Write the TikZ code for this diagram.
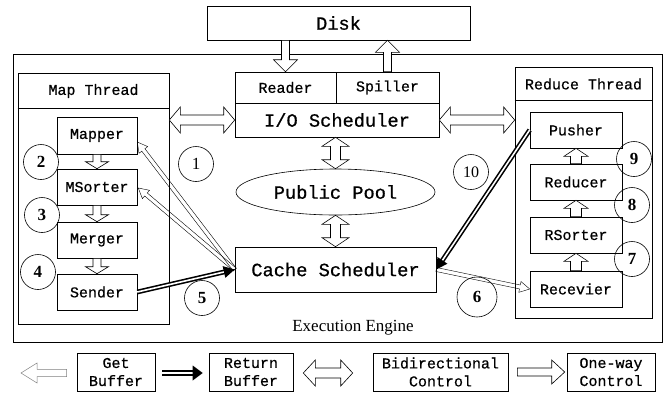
\documentclass[tikz,border=0pt]{standalone}
\usepackage{fontspec}
\setmainfont{Liberation Serif}
\setmonofont{Liberation Mono}[FakeBold=0.7]
\usetikzlibrary{calc,shapes.geometric}

\newcommand{\smallmono}{\ttfamily\fontsize{15}{18}\selectfont}
\newcommand{\bigmono}{\ttfamily\fontsize{18.7}{22}\selectfont}

% hollow block arrow: [opts]{from}{to}{shaft half}{head half}{head length}
\newcommand{\blockarrow}[6][]{%
  \coordinate (ba-s) at (#2);
  \coordinate (ba-e) at (#3);
  \coordinate (ba-c) at ($(ba-e)!#6!(ba-s)$);
  \draw[#1] ($(ba-s)!#4!90:(ba-e)$) -- ($(ba-c)!#4!90:(ba-e)$) -- ($(ba-c)!#5!90:(ba-e)$) -- (ba-e)
    -- ($(ba-c)!#5!-90:(ba-e)$) -- ($(ba-c)!#4!-90:(ba-e)$) -- ($(ba-s)!#4!-90:(ba-e)$) -- cycle;
}
% hollow block arrow with two heads
\newcommand{\dblarrow}[6][]{%
  \coordinate (ba-s) at (#2);
  \coordinate (ba-e) at (#3);
  \coordinate (ba-a) at ($(ba-s)!#6!(ba-e)$);
  \coordinate (ba-b) at ($(ba-e)!#6!(ba-s)$);
  \draw[#1] (ba-s) -- ($(ba-a)!#5!90:(ba-e)$) -- ($(ba-a)!#4!90:(ba-e)$) -- ($(ba-b)!#4!90:(ba-e)$)
    -- ($(ba-b)!#5!90:(ba-e)$) -- (ba-e) -- ($(ba-b)!#5!-90:(ba-e)$) -- ($(ba-b)!#4!-90:(ba-e)$)
    -- ($(ba-a)!#4!-90:(ba-e)$) -- ($(ba-a)!#5!-90:(ba-e)$) -- cycle;
}
% return buffer arrow: double shaft, black head
\newcommand{\retarrow}[5][]{%
  \coordinate (ba-s) at (#2);
  \coordinate (ba-e) at (#3);
  \coordinate (ba-c) at ($(ba-e)!#5!(ba-s)$);
  \draw[double, line width=1.6pt, double distance=1.6pt, #1] (ba-s) -- ($(ba-c)!1pt!(ba-e)$);
  \fill ($(ba-c)!#4!90:(ba-e)$) -- (ba-e) -- ($(ba-c)!#4!-90:(ba-e)$) -- cycle;
}

\begin{document}
\begin{tikzpicture}[x=1pt, y=-1pt, line width=0.6pt,
  unitbox/.style={draw, rectangle, inner sep=0pt, font=\smallmono},
  numcirc/.style={draw, circle, minimum size=35pt, inner sep=0pt, font=\fontsize{17}{18}\selectfont\bfseries},
  legbox/.style={draw, rectangle, inner sep=0pt, minimum height=38pt, align=center, font=\smallmono}]
\useasboundingbox (0,0) rectangle (670,392);

% disk and engine
\node[unitbox, minimum width=263pt, minimum height=34pt, font=\bigmono] (disk) at (338.5,23) {Disk};
\node[draw, minimum width=649pt, minimum height=288pt] (engine) at (337.5,198) {};
\node[font=\fontsize{17}{20}\selectfont] (englabel) at (353,328) {Execution Engine};

% schedulers and pool
\node[unitbox, minimum width=101pt, minimum height=31pt] (reader) at (285.5,87.5) {Reader};
\node[unitbox, minimum width=103pt, minimum height=31pt] (spiller) at (387.5,87.5) {Spiller};
\node[unitbox, minimum width=204pt, minimum height=34pt, font=\bigmono] (iosched) at (337,120) {I/O Scheduler};
\node[draw, ellipse, minimum width=199pt, minimum height=46pt, inner sep=0pt, font=\bigmono] (pool) at (335.5,192) {Public Pool};
\node[unitbox, minimum width=201pt, minimum height=45pt, font=\bigmono] (cache) at (335.5,269.5) {Cache Scheduler};

% map thread
\node[draw, minimum width=151pt, minimum height=251pt] (mapthread) at (93.5,198.5) {};
\draw ($(mapthread.north west)+(0,36)$) -- ($(mapthread.north east)+(0,36)$);
\node[font=\smallmono] (maptitle) at (93.5,91) {Map Thread};
\node[unitbox, minimum width=80pt, minimum height=37pt] (mapper) at (97,135.5) {Mapper};
\node[unitbox, minimum width=80pt, minimum height=36pt] (msorter) at (97,187) {MSorter};
\node[unitbox, minimum width=80pt, minimum height=36pt] (merger) at (97,240) {Merger};
\node[unitbox, minimum width=80pt, minimum height=36pt] (sender) at (97,292) {Sender};

% reduce thread
\node[draw, minimum width=137pt, minimum height=251pt] (redthread) at (583.5,192.5) {};
\draw ($(redthread.north west)+(0,34)$) -- ($(redthread.north east)+(0,34)$);
\node[font=\smallmono] (redtitle) at (583.5,84) {Reduce Thread};
\node[unitbox, minimum width=92pt, minimum height=36pt] (pusher) at (576,130) {Pusher};
\node[unitbox, minimum width=92pt, minimum height=36pt] (reducer) at (576,182) {Reducer};
\node[unitbox, minimum width=92pt, minimum height=36pt] (rsorter) at (576,235) {RSorter};
\node[unitbox, minimum width=92pt, minimum height=36pt] (recevier) at (576,289) {Recevier};

% step numbers
\node[numcirc, font=\fontsize{17}{18}\selectfont] (n1) at (196,164) {1};
\node[numcirc] (n2) at (41,162) {2};
\node[numcirc] (n3) at (42,215) {3};
\node[numcirc] (n4) at (38,272) {4};
\node[numcirc] (n5) at (202,298) {5};
\node[numcirc, minimum size=40pt] (n6) at (477,297) {6};
\node[numcirc] (n7) at (632,259) {7};
\node[numcirc] (n8) at (632,205) {8};
\node[numcirc] (n9) at (634,159) {9};
\node[numcirc, font=\fontsize{16}{18}\selectfont] (n10) at (471,172) {10};

% control arrows
\blockarrow[fill=white]{reader |- disk.south}{reader.north}{4pt}{12pt}{12pt}
\blockarrow[fill=white]{spiller.north}{spiller |- disk.south}{4pt}{12pt}{12pt}
\dblarrow[fill=white]{pool |- iosched.south}{pool.north}{5pt}{13.5pt}{9pt}
\dblarrow[fill=white]{pool.south}{pool |- cache.north}{5pt}{13.5pt}{9pt}
\dblarrow[fill=white]{mapthread.east |- iosched.west}{iosched.west}{5pt}{13pt}{11pt}
\dblarrow[fill=white]{iosched.east}{redthread.west |- iosched.east}{5pt}{13pt}{11pt}
\blockarrow[fill=white]{mapper.south}{msorter.north}{4pt}{11.5pt}{7pt}
\blockarrow[fill=white]{msorter.south}{merger.north}{4pt}{11.5pt}{7pt}
\blockarrow[fill=white]{merger.south}{sender.north}{4pt}{11.5pt}{7pt}
\blockarrow[fill=white]{reducer.north}{pusher.south}{5.5pt}{12pt}{8pt}
\blockarrow[fill=white]{rsorter.north}{reducer.south}{5.5pt}{12pt}{8pt}
\blockarrow[fill=white]{recevier.north}{rsorter.south}{5.5pt}{12pt}{8pt}

% buffer arrows
\coordinate (mapin) at ($(mapper.east)+(0,6.5)$);
\coordinate (msortin) at ($(msorter.east)+(1,1)$);
\blockarrow[line width=0.4pt]{cache.west}{mapin}{2pt}{5.5pt}{10pt}
\blockarrow[line width=0.4pt]{cache.west}{msortin}{2pt}{5.5pt}{10pt}
\blockarrow[line width=0.4pt]{cache.east}{recevier.west}{2pt}{5.5pt}{10pt}
\retarrow{sender.east}{cache.west}{6pt}{11pt}
\retarrow{pusher.west}{cache.east}{6pt}{11pt}

% legend
\node[legbox, minimum width=78pt] (getbuf) at (116,372) {Get\\Buffer};
\node[legbox, minimum width=84pt] (retbuf) at (251,372) {Return\\Buffer};
\node[legbox, minimum width=135pt] (bidir) at (440.5,372) {Bidirectional\\Control};
\node[legbox, minimum width=88pt] (oneway) at (611,372) {One-way\\Control};
\coordinate (gettail) at ($(getbuf.west)+(-10,1)$);
\coordinate (gettip) at (21,373);
\blockarrow[draw=gray, line width=0.5pt]{gettail}{gettip}{3.7pt}{10pt}{16pt}
\retarrow[line width=2.2pt]{$(getbuf.east)+(7,1)$}{$(retbuf.west)+(-6,1)$}{7.5pt}{10pt}
\dblarrow{$(retbuf.east)+(10,1)$}{$(bidir.west)+(-20,1)$}{5pt}{13pt}{12pt}
\blockarrow{$(bidir.east)+(9,0)$}{$(oneway.west)+(-2,0)$}{4pt}{12pt}{13pt}
\end{tikzpicture}
\end{document}
